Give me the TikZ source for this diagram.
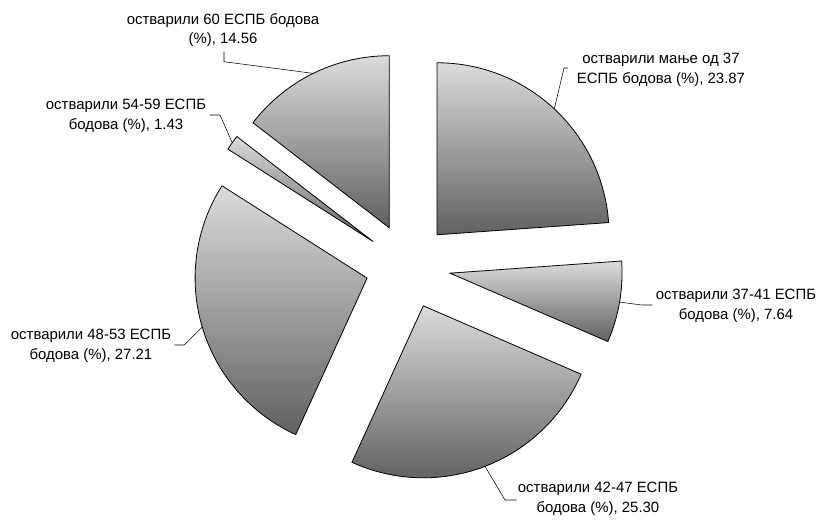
\documentclass[tikz,border=0pt]{standalone}
\usepackage{fontspec}
\setmainfont{Liberation Sans}
\begin{document}
\begin{tikzpicture}[x=0.75pt, y=0.75pt,
  slice/.style={draw=black, line width=0.6pt, top color=black!14, bottom color=black!62},
  lbl/.style={align=center, font=\fontsize{11.2}{14.6}\selectfont, inner sep=0},
  leader/.style={draw=black, line width=0.4pt}]
  \useasboundingbox (-408,-255) rectangle (413,266);

  % exploded slices: start angle / end angle / name
  \foreach \s/\e/\name in {90/4.07/a, 4.07/-23.43/b, -23.43/-114.51/c,
      -114.51/-212.47/d, -212.47/-217.62/e, -217.62/-270/f}{
    \pgfmathsetmacro{\m}{(\s+\e)/2}
    \path[slice] (\m:32pt) -- ++(\s:129pt) arc[start angle=\s, end angle=\e, radius=129pt] -- cycle;
    \coordinate (tip\name) at (\m:161pt);
  }

  % labels
  \node[lbl] (la) at (253,196) {остварили мање од 37\\ЕСПБ бодова (\%), 23.87};
  \node[lbl] (lb) at (328,-40) {остварили 37-41 ЕСПБ\\бодова (\%), 7.64};
  \node[lbl] (lc) at (190,-233) {остварили 42-47 ЕСПБ\\бодова (\%), 25.30};
  \node[lbl] (ld) at (-317,-80) {остварили 48-53 ЕСПБ\\бодова (\%), 27.21};
  \node[lbl] (le) at (-282,150) {остварили 54-59 ЕСПБ\\бодова (\%), 1.43};
  \node[lbl] (lf) at (-185,236) {остварили 60 ЕСПБ бодова\\(\%), 14.56};

  % leader lines
  \coordinate (benda) at (156,198);   \coordinate (enda) at (160,198);
  \coordinate (bendb) at (233.7,-39); \coordinate (endb) at (244.3,-39);
  \coordinate (bendc) at (97,-234);   \coordinate (endc) at (108.7,-234);
  \coordinate (bendd) at (-223.7,-79);\coordinate (endd) at (-233.7,-79);
  \coordinate (bende) at (-188,151);  \coordinate (ende) at (-198,151);
  \coordinate (bendf) at (-184,204.3);\coordinate (endf) at (-184,214.3);
  \foreach \name in {a,b,c,d,e,f}
    \draw[leader] (tip\name) -- (bend\name) -- (end\name);
\end{tikzpicture}
\end{document}
